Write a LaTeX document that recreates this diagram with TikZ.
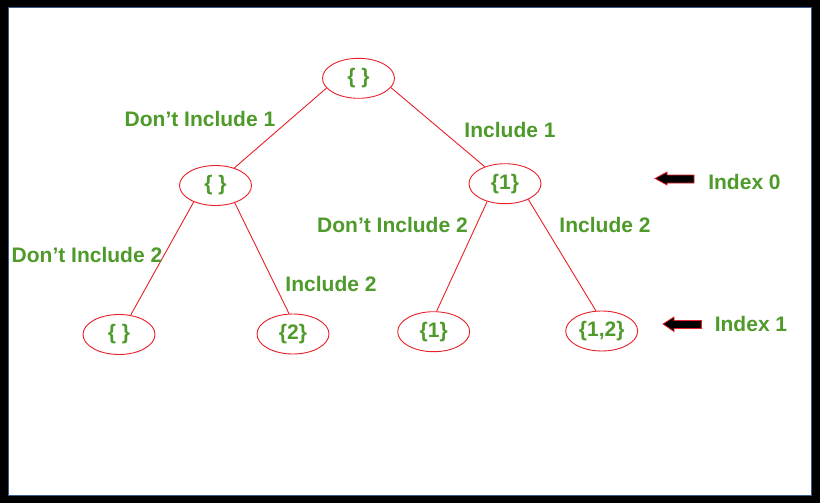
\documentclass[tikz,border=0pt]{standalone}
\usepackage{fontspec}
\setmainfont{Liberation Sans}
\usetikzlibrary{shapes.geometric}
\definecolor{lblgreen}{RGB}{78,154,42}
\definecolor{edgered}{RGB}{232,32,40}
\definecolor{frameblue}{RGB}{60,90,140}
\begin{document}
\begin{tikzpicture}[x=1pt,y=-1pt,
  setnode/.style={ellipse, draw=edgered, line width=0.9pt, minimum width=72pt, minimum height=40pt, inner sep=0pt, text=lblgreen, font=\fontsize{21}{25}\selectfont\bfseries},
  lbl/.style={text=lblgreen, font=\fontsize{21}{25}\selectfont\bfseries, inner sep=0pt, anchor=base},
  edgeline/.style={draw=edgered, line width=0.9pt},
  idxarrow/.style={fill=black, draw=edgered, line width=0.8pt, line join=miter}]
\useasboundingbox (0,0) rectangle (820,503);
\fill[black] (0,0) rectangle (820,503);
\filldraw[fill=white, draw=frameblue, line width=0.8pt] (8,7) rectangle (811,495);

\node[setnode] (root) at (358.5,78.3) {\{ \}};
\node[setnode] (l) at (215.5,185.5) {\{ \}};
\node[setnode] (r) at (505,183.7) {\{1\}};
\node[setnode] (ll) at (119,334.5) {\{ \}};
\node[setnode] (lr) at (293,334) {\{2\}};
\node[setnode] (rl) at (433.7,331.7) {\{1\}};
\node[setnode] (rr) at (601.7,331) {\{1,2\}};

\draw[edgeline] (root.197) -- (l.43);
\draw[edgeline] (root.344) -- (r.140);
\draw[edgeline] (l.217) -- (ll.59);
\draw[edgeline] (l.318) -- (lr.101);
\draw[edgeline] (r.225) -- (rl.82);
\draw[edgeline] (r.326) -- (rr.106);

\node[lbl] (t1) at (200,126) {Don’t Include 1};
\node[lbl] (t2) at (510,138) {Include 1};
\node[lbl] (t3) at (87,262.5) {Don’t Include 2};
\node[lbl] (t4) at (331,291) {Include 2};
\node[lbl] (t5) at (392.5,232.7) {Don’t Include 2};
\node[lbl] (t6) at (605,232.7) {Include 2};
\node[lbl] (i0) at (744.5,189.5) {Index 0};
\node[lbl] (i1) at (751,331.5) {Index 1};

\filldraw[idxarrow] (655,178.5) -- (667,172) -- (667,175) -- (694,175) -- (694,183) -- (667,183) -- (667,185) -- cycle;
\filldraw[idxarrow] (663,324) -- (674,317) -- (674,320.5) -- (701.5,320.5) -- (701.5,328.5) -- (674,328.5) -- (674,331.5) -- cycle;
\end{tikzpicture}
\end{document}
